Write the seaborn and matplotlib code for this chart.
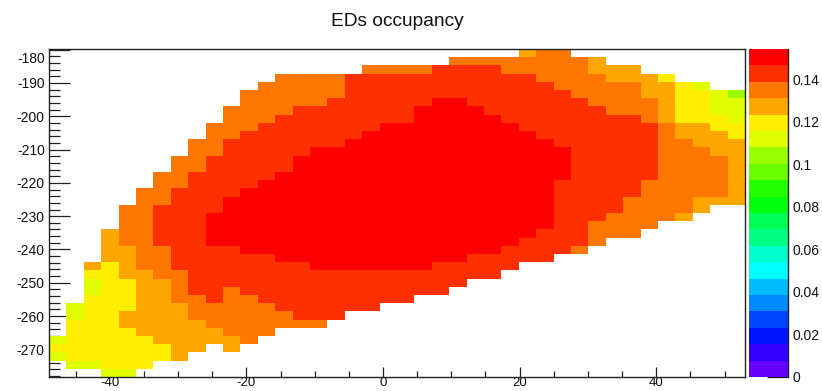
import numpy as np
import pandas as pd
import matplotlib
matplotlib.use("Agg")
import matplotlib.pyplot as plt
from matplotlib.colors import ListedColormap
import colorsys
import seaborn as sns

# ---------------- data ----------------
title = "EDs occupancy"
x_min, x_max = -48.9, 53.0          # x-axis range of the histogram
y_top, y_bottom = -179.8, -278.3    # y-axis range of the histogram
z_max = 0.1541                       # top of the colour scale
n_levels = 20

# occupancy value of each colour level seen in the picture
level_values = {'.': np.nan, 'G': 0.1040, 'g': 0.1117, 'Y': 0.1194,
                'A': 0.1271, 'O': 0.1348, 'R': 0.1425, 'D': 0.1502}

# 40 y-bins (top -> bottom) x 40 x-bins (left -> right)
occupancy_rows = [
    '..........' '..........' '.......AOO' '..........',
    '..........' '..........' '...OOOOOOO' 'OA........',
    '..........' '........OO' 'OORRRROOOO' 'OAAA......',
    '..........' '...OOOORRR' 'RRRRRRRROO' 'OOAAAY....',
    '..........' '..OOOOORRR' 'RRRRRRRRRO' 'OOOOAAYg..',
    '..........' '.OOOOOORRR' 'RRRRRRRRRR' 'OOOOAAYYgG',
    '..........' '.OOOOORRRR' 'RRDDRRRRRR' 'ROOOOAYYgg',
    '..........' 'OOOORRRRRR' 'RDDDDRRRRR' 'RROOOAYYgg',
    '..........' 'OOORRRRRRR' 'RDDDDDRRRR' 'RRRROAYYYg',
    '.........O' 'OORRRRRRRD' 'DDDDDDDRRR' 'RRRRROAAYY',
    '.........O' 'ORRRRRRRDD' 'DDDDDDDDRR' 'RRRRROAAAY',
    '........OO' 'RRRRRRRDDD' 'DDDDDDDDDR' 'RRRRROOAAA',
    '........OO' 'RRRRRDDDDD' 'DDDDDDDDDD' 'RRRRROOOAA',
    '.......OOR' 'RRRRDDDDDD' 'DDDDDDDDDD' 'RRRRROOOOA',
    '.......OOR' 'RRRRDDDDDD' 'DDDDDDDDDD' 'RRRRROOOOA',
    '......OORR' 'RRRDDDDDDD' 'DDDDDDDDDD' 'RRRRROOOOA',
    '......OORR' 'RRDDDDDDDD' 'DDDDDDDDDR' 'RRRROOOOOA',
    '.....OORRR' 'RDDDDDDDDD' 'DDDDDDDDDR' 'RRRROOOOOA',
    '.....OORRR' 'DDDDDDDDDD' 'DDDDDDDDDR' 'RRROOOOAAA',
    '....OORRRR' 'DDDDDDDDDD' 'DDDDDDDDDR' 'RRROOOOA..',
    '....OORRRD' 'DDDDDDDDDD' 'DDDDDDDDDR' 'RROOOOA...',
    '....OORRRD' 'DDDDDDDDDD' 'DDDDDDDDDR' 'ROOOO.....',
    '...AOORRRD' 'DDDDDDDDDD' 'DDDDDDDDRR' 'ROOO......',
    '...AOORRRD' 'DDDDDDDDDD' 'DDDDDDDRRR' 'RO........',
    '...AAOORRR' 'RDDDDDDDDD' 'DDDDDDRRRR' 'O.........',
    '...AAOORRR' 'RRRDDDDDDD' 'DDDDRRRRR.' '..........',
    '..AYAOORRR' 'RRRRRDDDDD' 'DDRRRRR...' '..........',
    '..YYAAOORR' 'RRRRRRRRRR' 'RRRRRR....' '..........',
    '..gYYAAORR' 'RRRRRRRRRR' 'RRRR......' '..........',
    '..gYYAAORR' 'ORRRRRRRRR' 'RRR.......' '..........',
    '..YYYAAOOR' 'OORRRRRRRR' 'R.........' '..........',
    '.gYYYAAAOO' 'OOORRRRRR.' '..........' '..........',
    '.gYYAAAAOO' 'OOOORRR...' '..........' '..........',
    '.YYYAAAAAO' 'OOOOOO....' '..........' '..........',
    '.YYYYAAAAA' 'OOO.......' '..........' '..........',
    'gYYYYYAAAA' 'AO........' '..........' '..........',
    'YYYYYYYAA.' 'A.........' '..........' '..........',
    'gYYYYYYA..' '..........' '..........' '..........',
    '.ggYYY....' '..........' '..........' '..........',
    '...gg.....' '..........' '..........' '..........',
]

x_major = [-40, -20, 0, 20, 40]
x_minor = [v for v in range(-45, 55, 5) if v % 20 != 0]
y_major = list(range(-180, -271, -10))
y_minor = [v for v in range(-182, -279, -2) if v % 10 != 0]
z_ticks = [0, 0.02, 0.04, 0.06, 0.08, 0.1, 0.12, 0.14]
z_labels = ['0', '0.02', '0.04', '0.06', '0.08', '0.1', '0.12', '0.14']

# ---------------- build table ----------------
grid = np.array([[level_values[c] for c in row] for row in occupancy_rows], dtype=float)
ny, nx = grid.shape
dx = (x_max - x_min) / nx
dy = (y_top - y_bottom) / ny
x_centers = np.round(x_min + (np.arange(nx) + 0.5) * dx, 3)
y_centers = np.round(y_top - (np.arange(ny) + 0.5) * dy, 3)
df = pd.DataFrame(grid, index=y_centers, columns=x_centers)

def ux(x):
    return (np.asarray(x, float) - x_min) / dx

def vy(y):
    return (y_top - np.asarray(y, float)) / dy

# ROOT "pretty palette" (violet -> red), 20 contour levels
colors = []
for j in range(n_levels):
    c = int((j + 0.99) * 50 / n_levels)
    hue = 0.0 if c >= 49 else 280.0 - (c + 1) * 5.6
    colors.append(colorsys.hls_to_rgb(hue / 360.0, 0.5, 1.0))
cmap = ListedColormap(colors)

# ---------------- plot ----------------
sns.set_theme(style="white")
plt.rcParams['font.family'] = ['Liberation Sans', 'DejaVu Sans']

W, H = 822, 391
fig = plt.figure(figsize=(W / 100, H / 100), dpi=100)
ax = fig.add_axes([49 / W, (H - 377) / H, 696 / W, 328 / H])
cax = fig.add_axes([749 / W, (H - 377) / H, 39 / W, 328 / H])

sns.heatmap(df, ax=ax, cbar_ax=cax, cmap=cmap, vmin=0, vmax=z_max,
            xticklabels=False, yticklabels=False)

ax.set_xlabel("")
ax.set_ylabel("")
for s in ax.spines.values():
    s.set_visible(True)
    s.set_color('#222222')
    s.set_linewidth(1.0)

tick_col = '#222222'
ax.set_xticks(ux(x_major))
ax.set_xticklabels([str(v) for v in x_major])
ax.set_xticks(ux(x_minor), minor=True)
ax.set_yticks(vy(y_major))
ax.set_yticklabels(['' if v == -180 else str(v) for v in y_major])
ax.set_yticks(vy(y_minor), minor=True)

ax.tick_params(axis='x', which='major', direction='in', length=7.5, width=0.9,
               color=tick_col, labelsize=9.5, labelcolor='#111111', pad=0,
               bottom=True, top=False, labelrotation=0)
ax.tick_params(axis='x', which='minor', direction='in', length=4, width=0.9,
               color=tick_col, bottom=True, top=False)
ax.tick_params(axis='y', which='major', direction='in', length=15, width=0.9,
               color=tick_col, labelsize=10, labelcolor='#111111', pad=3,
               left=True, right=False, labelrotation=0)
ax.tick_params(axis='y', which='minor', direction='in', length=8, width=0.9,
               color=tick_col, left=True, right=False)

# top label of the y axis (drawn slightly below the frame corner as in ROOT)
fig.text(45 / W, 1 - 59 / H, '-180', ha='right', va='center',
         fontsize=10, color='#111111')

# colour bar
cbar = ax.collections[0].colorbar
cbar.outline.set_visible(False)
cbar.set_ticks(z_ticks)
cbar.set_ticklabels(z_labels)
cax.minorticks_off()
cax.tick_params(axis='y', which='major', direction='in', length=15, width=0.9,
                color='#111111', labelsize=10, labelcolor='#111111', pad=3,
                right=True, left=False)
cax.plot([1, 1], [0, 1], transform=cax.transAxes, color='#222222',
         lw=1.0, clip_on=False)

fig.text(397 / W, 1 - 21 / H, title, ha='center', va='center',
         fontsize=13.8, color='#111111')

fig.savefig("out.png", dpi=100)
